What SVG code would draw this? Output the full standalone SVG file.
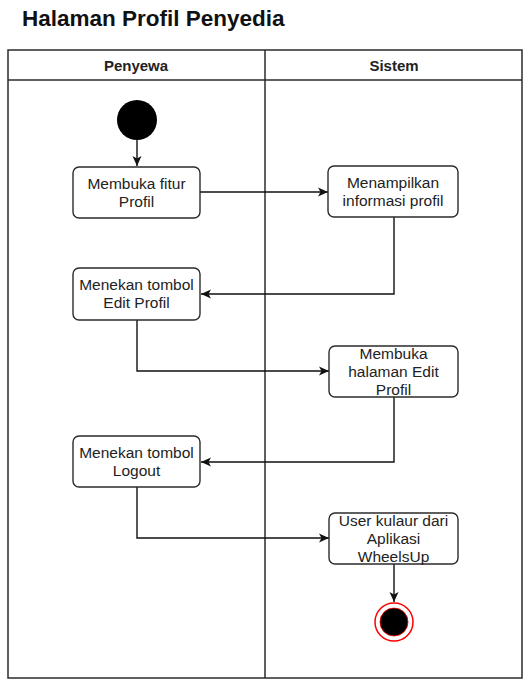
<svg xmlns="http://www.w3.org/2000/svg" width="532" height="687" viewBox="0 0 532 687">
<defs>
<style>
.lane{fill:none;stroke:#2b2b2b;stroke-width:1.5}
.box{fill:#fff;stroke:#2b2b2b;stroke-width:1.4}
.t{font-family:"Liberation Sans",Arial,sans-serif;font-size:15.5px;fill:#222;text-anchor:middle}
.h{font-family:"Liberation Sans",Arial,sans-serif;font-size:15px;font-weight:bold;fill:#222;text-anchor:middle}
.c{fill:none;stroke:#111;stroke-width:1.4}
</style>
<marker id="arr" markerUnits="userSpaceOnUse" markerWidth="12" markerHeight="12" viewBox="0 0 12 12" refX="11" refY="6" orient="auto">
<path d="M1,1.5 L11,6 L1,10.5 L3.5,6 Z" fill="#111"/>
</marker>
</defs>
<rect width="532" height="687" fill="#fff"/>
<text x="22" y="26" font-family="Liberation Sans, Arial, sans-serif" font-size="22.5" font-weight="bold" fill="#111">Halaman Profil Penyedia</text>
<g id="swimlanes">
<rect class="lane" x="8" y="50" width="514" height="628"/>
<line class="lane" x1="8" y1="80" x2="522" y2="80"/>
<line class="lane" x1="265" y1="50" x2="265" y2="678"/>
<text class="h" x="136" y="71">Penyewa</text>
<text class="h" x="394" y="71">Sistem</text>
</g>
<g id="connectors">
<path class="c" d="M137,140 L137,166" marker-end="url(#arr)"/>
<path class="c" d="M200,192 L328,192" marker-end="url(#arr)"/>
<path class="c" d="M394,217 L394,294 L201,294" marker-end="url(#arr)"/>
<path class="c" d="M137,320 L137,371 L329,371" marker-end="url(#arr)"/>
<path class="c" d="M394,397 L394,462 L201,462" marker-end="url(#arr)"/>
<path class="c" d="M137,487 L137,538 L329,538" marker-end="url(#arr)"/>
<path class="c" d="M394,564 L394,602" marker-end="url(#arr)"/>
</g>
<g id="start"><circle cx="137" cy="120" r="20" fill="#000"/></g>
<g id="n1"><rect class="box" x="73" y="167" width="127" height="51" rx="6"/>
<text class="t" x="136.5" y="189">Membuka fitur</text><text class="t" x="136.5" y="207">Profil</text></g>
<g id="n2"><rect class="box" x="328" y="166" width="130" height="51" rx="6"/>
<text class="t" x="393" y="187.5">Menampilkan</text><text class="t" x="393" y="205.5">informasi profil</text></g>
<g id="n3"><rect class="box" x="73" y="268" width="127" height="52" rx="6"/>
<text class="t" x="136.5" y="290">Menekan tombol</text><text class="t" x="136.5" y="308">Edit Profil</text></g>
<g id="n4"><rect class="box" x="329" y="346" width="129" height="51" rx="6"/>
<text class="t" x="393.5" y="359">Membuka</text><text class="t" x="393.5" y="377">halaman Edit</text><text class="t" x="393.5" y="395">Profil</text></g>
<g id="n5"><rect class="box" x="73" y="436" width="127" height="51" rx="6"/>
<text class="t" x="136.5" y="457.5">Menekan tombol</text><text class="t" x="136.5" y="475.5">Logout</text></g>
<g id="n6"><rect class="box" x="329" y="513" width="129" height="51" rx="6"/>
<text class="t" x="393.5" y="525.5">User kulaur dari</text><text class="t" x="393.5" y="543.5">Aplikasi</text><text class="t" x="393.5" y="561.5">WheelsUp</text></g>
<g id="end"><circle cx="394" cy="622" r="19" fill="#fff" stroke="#ff0000" stroke-width="1.5"/><circle cx="394" cy="622" r="14" fill="#000" stroke="#ff0000" stroke-width="0.8"/></g>
</svg>
